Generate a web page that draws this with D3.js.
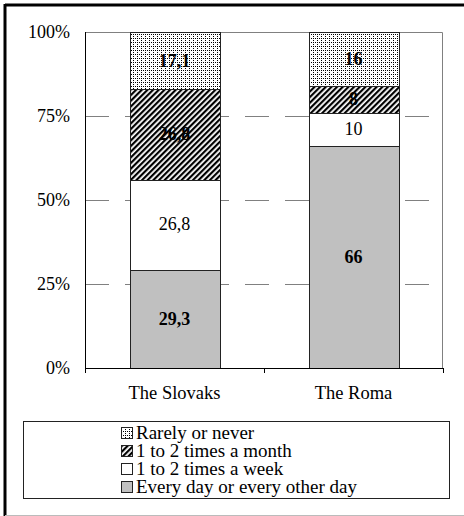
<!DOCTYPE html>
<html>
<head>
<meta charset="utf-8">
<script src="https://cdn.jsdelivr.net/npm/d3@7"></script>
<style>
  body { margin: 0; background: #fff; }
  svg { display: block; font-family: "Liberation Serif", "Times New Roman", serif; }
</style>
</head>
<body>
<svg id="chart" width="464" height="516"></svg>
<script>
// Chart data
const groups = ['The Slovaks', 'The Roma'];
const seriesKeys = ['daily', 'weekly', 'monthly', 'rarely'];
const seriesNames = {
    daily: 'Every day or every other day',
    weekly: '1 to 2 times a week',
    monthly: '1 to 2 times a month',
    rarely: 'Rarely or never'
};
const daily = [29.3, 66];
const weekly = [26.8, 10];
const monthly = [26.8, 8];
const rarely = [17.1, 16];
const valueLabels = {
    daily: ['29,3', '66'],
    weekly: ['26,8', '10'],
    monthly: ['26,8', '8'],
    rarely: ['17,1', '16']
};
const yTicks = [0, 25, 50, 75, 100];
const legendOrder = ['rarely', 'monthly', 'weekly', 'daily'];

const margin = {top: 32, left: 85, right: 21, bottom: 148};
const W = 464, H = 516;
const width = W - margin.left - margin.right;
const height = H - margin.top - margin.bottom;

const svg = d3.select('#chart');

// Patterns
const defs = svg.append('defs');
const dots = defs.append('pattern')
    .attr('id', 'dots').attr('patternUnits', 'userSpaceOnUse')
    .attr('width', 4).attr('height', 4);
dots.append('rect').attr('width', 4).attr('height', 4).attr('fill', '#fff');
[[0, 0], [2, 2], [0, 2]].forEach(([x, y]) => {
    dots.append('rect').attr('x', x).attr('y', y).attr('width', 1).attr('height', 1).attr('fill', '#000');
});
const hatch = defs.append('pattern')
    .attr('id', 'hatch').attr('patternUnits', 'userSpaceOnUse')
    .attr('width', 4).attr('height', 4)
    .attr('patternTransform', 'rotate(45)');
hatch.append('rect').attr('width', 4).attr('height', 4).attr('fill', '#fff');
hatch.append('rect').attr('x', 0).attr('y', 0).attr('width', 2.2).attr('height', 4).attr('fill', '#000');

const fills = {
    daily: '#c0c0c0',
    weekly: '#ffffff',
    monthly: 'url(#hatch)',
    rarely: 'url(#dots)'
};
const boldLabel = {daily: true, weekly: false, monthly: true, rarely: true};

// Outer frame
svg.append('line').attr('x1', 5).attr('x2', W).attr('y1', 5).attr('y2', 5)
    .attr('stroke', '#000').attr('stroke-width', 3);
svg.append('line').attr('x1', 5).attr('x2', 5).attr('y1', 4).attr('y2', H)
    .attr('stroke', '#000').attr('stroke-width', 3);
svg.append('line').attr('x1', 5).attr('x2', W).attr('y1', 515.5).attr('y2', 515.5)
    .attr('stroke', '#bbb').attr('stroke-width', 1);

const g = svg.append('g').attr('transform', `translate(${margin.left},${margin.top})`);

const x = d3.scaleBand().domain(groups).range([0, width]).paddingInner(0.5).paddingOuter(0.25);
const xOuter = d3.scaleBand().domain(groups).range([0, width]);
const y = d3.scaleLinear().domain([0, 100]).range([height, 0]);

// Plot frame (top / right)
g.append('path')
    .attr('d', `M0.5,0.5H${width - 0.5}V${height}`)
    .attr('fill', 'none').attr('stroke', '#808080').attr('stroke-width', 1);

// Gridlines
g.selectAll('.grid')
    .data(yTicks.filter(t => t > 0))
    .enter().append('line')
    .attr('x1', 0).attr('x2', width)
    .attr('y1', d => Math.round(y(d)) + 0.5).attr('y2', d => Math.round(y(d)) + 0.5)
    .attr('stroke', '#808080').attr('stroke-width', 1.2)
    .attr('stroke-dasharray', '24,16');

// Stack
const table = groups.map((grp, i) => ({
    group: grp, i: i,
    daily: daily[i], weekly: weekly[i], monthly: monthly[i], rarely: rarely[i]
}));
const stack = d3.stack().keys(seriesKeys)(table);

const layers = g.selectAll('.layer').data(stack).enter().append('g');
layers.selectAll('rect')
    .data(d => d.map(v => ({key: d.key, v})))
    .enter().append('rect')
    .attr('x', d => Math.round(x(d.v.data.group)) + 0.5)
    .attr('width', Math.round(x.bandwidth()))
    .attr('y', d => Math.round(y(d.v[1])) + 0.5)
    .attr('height', d => Math.round(y(d.v[0])) - Math.round(y(d.v[1])))
    .attr('fill', d => fills[d.key])
    .attr('stroke', '#222').attr('stroke-width', 1);

layers.selectAll('text')
    .data(d => d.map(v => ({key: d.key, v})))
    .enter().append('text')
    .attr('x', d => x(d.v.data.group) + x.bandwidth() / 2)
    .attr('y', d => (y(d.v[0]) + y(d.v[1])) / 2)
    .attr('dy', '0.33em')
    .attr('text-anchor', 'middle')
    .style('font-size', '18px')
    .style('font-weight', d => boldLabel[d.key] ? 'bold' : 'normal')
    .text(d => valueLabels[d.key][d.v.data.i]);

// Axes
g.append('line').attr('x1', 0.5).attr('x2', 0.5).attr('y1', 0).attr('y2', height + 5)
    .attr('stroke', '#000');
g.append('line').attr('x1', 0).attr('x2', width).attr('y1', height + 0.5).attr('y2', height + 0.5)
    .attr('stroke', '#000');
const xTickPos = [0, ...groups.map(gr => xOuter(gr) + xOuter.bandwidth())];
g.selectAll('.xtick').data(xTickPos).enter().append('line')
    .attr('x1', d => Math.round(d) + 0.5).attr('x2', d => Math.round(d) + 0.5)
    .attr('y1', height).attr('y2', height + 5)
    .attr('stroke', '#000');

g.selectAll('.ylab').data(yTicks).enter().append('text')
    .attr('x', -15).attr('y', d => y(d)).attr('dy', '0.33em')
    .attr('text-anchor', 'end')
    .style('font-size', '18px')
    .text(d => d + '%');

g.selectAll('.xlab').data(groups).enter().append('text')
    .attr('x', d => xOuter(d) + xOuter.bandwidth() / 2)
    .attr('y', height + 31)
    .attr('text-anchor', 'middle')
    .style('font-size', '18.5px')
    .text(d => d);

// Legend
const legend = svg.append('g');
legend.append('rect')
    .attr('x', 23.5).attr('y', 421.5).attr('width', 426).attr('height', 77)
    .attr('fill', 'none').attr('stroke', '#222');
const items = legend.selectAll('.item').data(legendOrder).enter().append('g')
    .attr('transform', (d, i) => `translate(121,${433 + i * 18})`);
items.append('rect')
    .attr('x', 0.5).attr('y', -5.5).attr('width', 11).attr('height', 11)
    .attr('fill', d => fills[d]).attr('stroke', '#222');
items.append('text')
    .attr('x', 15).attr('y', 0).attr('dy', '0.33em')
    .style('font-size', '19px')
    .text(d => seriesNames[d]);
</script>
</body>
</html>
